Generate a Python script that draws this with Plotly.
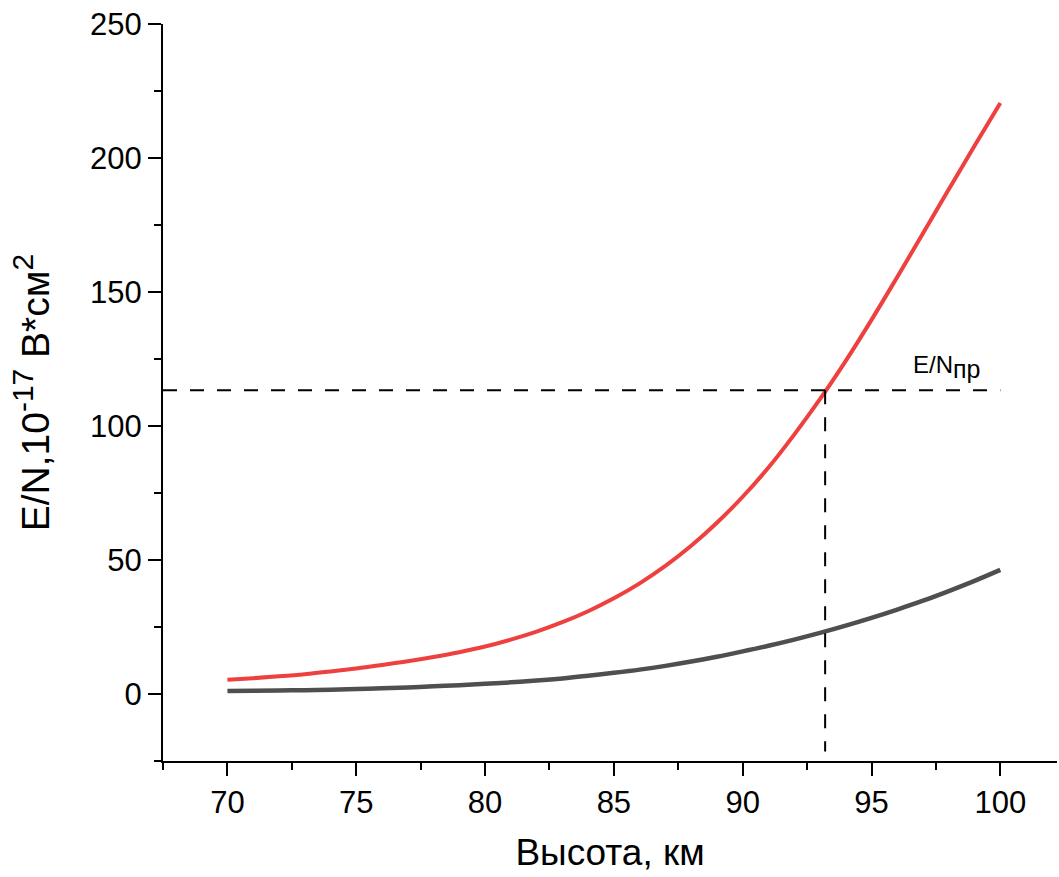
import plotly.graph_objects as go

# Data
altitude = [70, 71, 72, 73, 74, 75, 76, 77, 78, 79, 80, 81, 82, 83, 84, 85,
            86, 87, 88, 89, 90, 91, 92, 93, 94, 95, 96, 97, 98, 99, 100]
en_red = [5.3, 5.9, 6.6, 7.4, 8.4, 9.5, 10.8, 12.2, 13.8, 15.6, 17.7, 20.3,
          23.3, 26.8, 30.9, 35.7, 41.3, 47.8, 55.3, 63.9, 73.6, 84.5, 96.8,
          110.0, 124.3, 139.6, 155.6, 171.9, 188.3, 204.6, 220.5]
en_gray = [1.1, 1.18, 1.3, 1.44, 1.62, 1.85, 2.12, 2.45, 2.85, 3.3, 3.8, 4.35,
           5.0, 5.8, 6.8, 7.9, 9.1, 10.5, 12.1, 13.9, 15.9, 18.0, 20.3,
           22.8, 25.5, 28.4, 31.5, 34.8, 38.4, 42.2, 46.3]

threshold_en = 113.3       # E/N breakdown level
threshold_alt = 93.2       # crossing altitude
hline_x = [67.5, 100]
vline_y = [-21.5, threshold_en]

x_range = [67.5, 102.2]
y_range = [-25, 250]
x_ticks = [70, 75, 80, 85, 90, 95, 100]
y_ticks = [0, 50, 100, 150, 200, 250]

FONT = "Arial, Liberation Sans, sans-serif"
dash = "14px,13px"

fig = go.Figure()
fig.add_trace(go.Scatter(x=altitude, y=en_gray, mode="lines",
                         line=dict(color="#4f4f4f", width=4.5, shape="spline"),
                         showlegend=False))
fig.add_trace(go.Scatter(x=altitude, y=en_red, mode="lines",
                         line=dict(color="#ef4040", width=4, shape="spline"),
                         showlegend=False))
fig.add_trace(go.Scatter(x=hline_x, y=[threshold_en, threshold_en], mode="lines",
                         line=dict(color="black", width=2, dash=dash),
                         showlegend=False))
fig.add_trace(go.Scatter(x=[threshold_alt, threshold_alt], y=vline_y[::-1], mode="lines",
                         line=dict(color="black", width=2, dash=dash),
                         showlegend=False))

fig.add_annotation(x=96.55, y=122.0, xref="x", yref="y",
                   xanchor="left", yanchor="middle", showarrow=False,
                   text="E/N<sub><span style='font-size:25px'>пр</span></sub>",
                   font=dict(family=FONT, size=24, color="black"))

fig.update_layout(
    width=1059, height=877,
    margin=dict(l=163, r=2, t=24, b=116),
    plot_bgcolor="white", paper_bgcolor="white",
    font=dict(family=FONT, color="black"),
)
fig.update_xaxes(
    range=x_range, tickvals=x_ticks, ticks="outside", ticklen=13, tickwidth=2,
    tickcolor="black", showline=True, linewidth=2, linecolor="black",
    showgrid=False, zeroline=False, tickfont=dict(size=31, family=FONT),
    minor=dict(tickvals=[67.5, 72.5, 77.5, 82.5, 87.5, 92.5, 97.5],
               ticks="outside", ticklen=7, tickwidth=2, tickcolor="black", showgrid=False),
    title=dict(text="Высота, км", font=dict(size=37, family=FONT), standoff=20),
)
fig.update_yaxes(
    range=y_range, tickvals=y_ticks, ticks="outside", ticklen=13, tickwidth=2,
    tickcolor="black", showline=True, linewidth=2, linecolor="black",
    showgrid=False, zeroline=False, tickfont=dict(size=31, family=FONT),
    minor=dict(tickvals=[-25, 25, 75, 125, 175, 225],
               ticks="outside", ticklen=7, tickwidth=2, tickcolor="black", showgrid=False),
    title=dict(text="E/N,10<sup><span style='font-size:30px'>-17</span></sup> В*см<sup><span style='font-size:30px'>2</span></sup>",
               font=dict(size=39, family=FONT), standoff=28),
)

fig.write_html("out.html")
